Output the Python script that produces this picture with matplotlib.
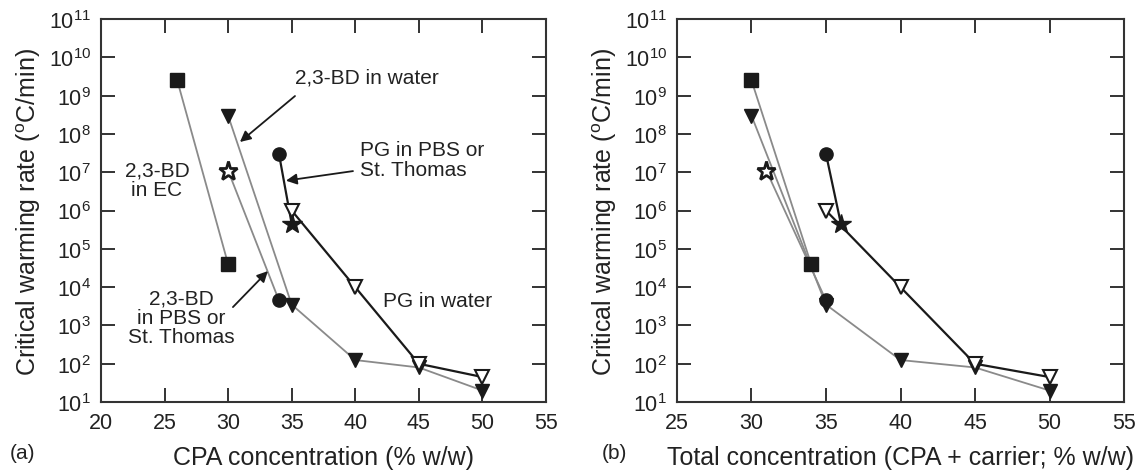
import matplotlib
matplotlib.use("Agg")
import matplotlib.pyplot as plt
from matplotlib.ticker import LogLocator, FixedLocator, NullLocator

plt.rcParams["font.family"] = ["Liberation Sans", "DejaVu Sans"]
plt.rcParams["mathtext.fontset"] = "custom"
plt.rcParams["mathtext.rm"] = "Liberation Sans"
plt.rcParams["mathtext.it"] = "Liberation Sans:italic"
plt.rcParams["mathtext.default"] = "regular"

# ---- data -------------------------------------------------------------
# (a) CPA concentration (% w/w)
bd_ec_x_cpa = [26, 30]
bd_ec_y = [2.5e9, 4e4]

bd_water_x = [30, 35, 40, 45, 50]
bd_water_y = [3e8, 3.5e3, 125, 80, 20]

bd_pbs_x_cpa = [30, 34]          # open star (St. Thomas) -> filled circle (PBS)
bd_pbs_y = [1.1e7, 4.5e3]

pg_pbs_x_cpa = [34, 35]          # filled circle (PBS) -> filled star (St. Thomas)
pg_pbs_y = [3e7, 4.5e5]

pg_water_x = [35, 40, 45, 50]
pg_water_y = [1e6, 1e4, 100, 45]

# (b) total concentration (CPA + carrier; % w/w)
bd_ec_x_tot = [30, 34]
bd_pbs_x_tot = [31, 35]
pg_pbs_x_tot = [35, 36]

GRAY = "#8a8a8a"
INK = "#1a1a1a"


def draw_series(ax, bd_ec_x, bd_pbs_x, pg_pbs_x):
    # 2,3-BD in EC
    ax.plot(bd_ec_x, bd_ec_y, color=GRAY, lw=1.3, zorder=2)
    ax.plot(bd_ec_x, bd_ec_y, ls="none", marker="s", ms=9.5, mfc=INK, mec=INK, zorder=4)
    # 2,3-BD in water
    ax.plot(bd_water_x, bd_water_y, color=GRAY, lw=1.3, zorder=2)
    ax.plot(bd_water_x, bd_water_y, ls="none", marker="v", ms=9.5, mfc=INK, mec=INK, zorder=4)
    # 2,3-BD in PBS or St. Thomas
    ax.plot(bd_pbs_x, bd_pbs_y, color=GRAY, lw=1.3, zorder=2)
    ax.plot(bd_pbs_x[:1], bd_pbs_y[:1], ls="none", marker="*", ms=14, mfc="white",
            mec=INK, mew=2.0, zorder=4)
    ax.plot(bd_pbs_x[1:], bd_pbs_y[1:], ls="none", marker="o", ms=9.5, mfc=INK, mec=INK, zorder=4)
    # PG in water
    ax.plot(pg_water_x, pg_water_y, color=INK, lw=1.6, zorder=3)
    ax.plot(pg_water_x, pg_water_y, ls="none", marker="v", ms=9.5, mfc="white",
            mec=INK, mew=1.5, zorder=4)
    # PG in PBS or St. Thomas
    ax.plot(pg_pbs_x, pg_pbs_y, color=INK, lw=1.6, zorder=3)
    ax.plot(pg_pbs_x[:1], pg_pbs_y[:1], ls="none", marker="o", ms=9.5, mfc=INK, mec=INK, zorder=4)
    ax.plot(pg_pbs_x[1:], pg_pbs_y[1:], ls="none", marker="*", ms=15, mfc=INK, mec=INK, zorder=5)


def style_axes(ax, xmin, xmax, xticks):
    ax.set_yscale("log")
    ax.set_xlim(xmin, xmax)
    ax.set_ylim(1e1, 1e11)
    ax.xaxis.set_major_locator(FixedLocator(xticks))
    ax.yaxis.set_major_locator(LogLocator(base=10, numticks=20))
    ax.yaxis.set_minor_locator(NullLocator())
    ax.tick_params(which="major", direction="in", length=10, width=1.4,
                   top=True, right=True, labelsize=15.5, colors="#333333",
                   labelcolor="#222222", pad=7)
    for sp in ax.spines.values():
        sp.set_linewidth(1.5)
        sp.set_color("#333333")
    ax.set_ylabel("Critical warming rate ($^{o}$C/min)", fontsize=18,
                  color="#222222", labelpad=4)


fig = plt.figure(figsize=(11.37, 4.77), dpi=100)
ax1 = fig.add_axes([0.0888, 0.155, 0.3914, 0.803])
ax2 = fig.add_axes([0.5954, 0.155, 0.3932, 0.803])

draw_series(ax1, bd_ec_x_cpa, bd_pbs_x_cpa, pg_pbs_x_cpa)
draw_series(ax2, bd_ec_x_tot, bd_pbs_x_tot, pg_pbs_x_tot)

style_axes(ax1, 20, 55, [20, 25, 30, 35, 40, 45, 50, 55])
style_axes(ax2, 25, 55, [25, 30, 35, 40, 45, 50, 55])

ax1.set_xlabel("CPA concentration (% w/w)", fontsize=18, color="#222222", labelpad=9)
ax2.set_xlabel("Total concentration (CPA + carrier; % w/w)", fontsize=18,
               color="#222222", labelpad=9)

fig.text(0.009, 0.05, "(a)", fontsize=15, color="#222222", va="center")
fig.text(0.529, 0.05, "(b)", fontsize=15, color="#222222", va="center")

# ---- annotations on panel (a) ----------------------------------------
arrow = dict(arrowstyle="-|>", color=INK, lw=1.3, mutation_scale=16, shrinkA=0, shrinkB=0)
txt = dict(fontsize=15, color="#222222")

ax1.annotate("", xy=(30.93, 10**7.79), xytext=(35.26, 10**8.99), arrowprops=arrow)
ax1.text(40.9, 10**9.49, "2,3-BD in water", ha="center", va="center", **txt)

ax1.text(24.4, 10**6.80, "2,3-BD\nin EC", ha="center", va="center",
         linespacing=1.05, **txt)

ax1.annotate("", xy=(34.55, 10**6.78), xytext=(39.82, 10**7.03), arrowprops=arrow)
ax1.text(40.37, 10**7.34, "PG in PBS or\nSt. Thomas", ha="left", va="center",
         linespacing=1.05, **txt)

ax1.text(46.5, 10**3.64, "PG in water", ha="center", va="center", **txt)

ax1.annotate("", xy=(33.13, 10**4.42), xytext=(30.38, 10**3.48), arrowprops=arrow)
ax1.text(26.3, 10**3.22, "2,3-BD\nin PBS or\nSt. Thomas", ha="center", va="center",
         linespacing=1.0, **txt)

fig.savefig("out.png", dpi=100, facecolor="white")
